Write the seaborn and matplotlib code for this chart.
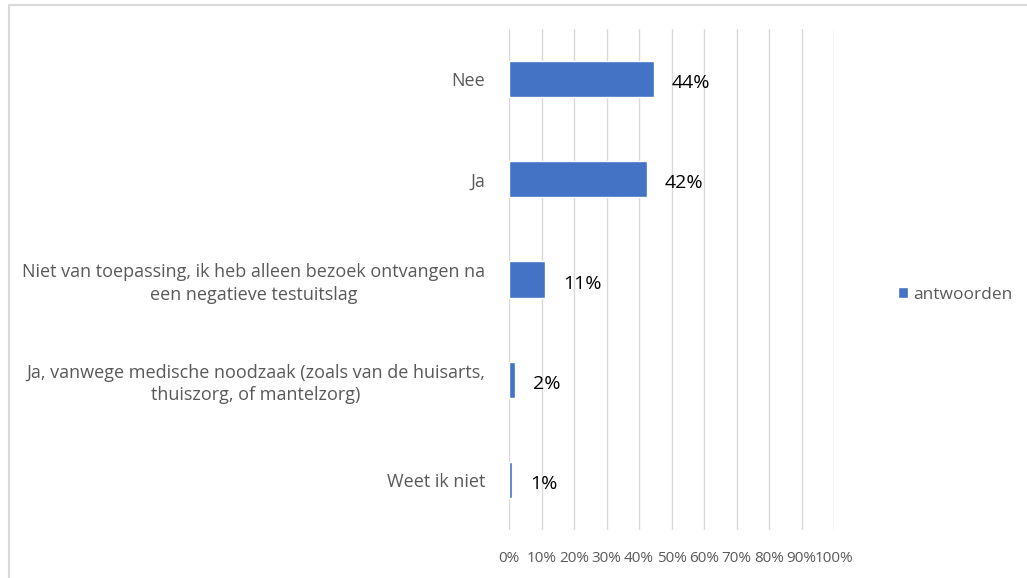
import matplotlib
matplotlib.use("Agg")
import matplotlib.pyplot as plt
import seaborn as sns
import pandas as pd
from matplotlib.patches import Rectangle

# data
categories = [
    "Nee",
    "Ja",
    "Niet van toepassing, ik heb alleen bezoek ontvangen na\neen negatieve testuitslag",
    "Ja, vanwege medische noodzaak (zoals van de huisarts,\nthuiszorg, of mantelzorg)",
    "Weet ik niet",
]
values = [44.6, 42.4, 11.2, 1.8, 1.0]
value_labels = ["44%", "42%", "11%", "2%", "1%"]
xticks = list(range(0, 101, 10))
xtick_labels = [f"{t}%" for t in xticks]

df = pd.DataFrame({"antwoord": categories, "pct": values})

sns.set_style("white")
plt.rcParams["font.family"] = ["Open Sans", "DejaVu Sans"]

fig = plt.figure(figsize=(10.27, 5.78), dpi=100)
ax = fig.add_axes([509 / 1027, 1 - 530 / 578, 325 / 1027, 501 / 578])

sns.barplot(data=df, y="antwoord", x="pct", color="#4472C4", width=0.36,
            saturation=1, label="antwoorden", ax=ax, orient="h")

ax.set_xlim(0, 100)
ax.set_xticks(xticks)
ax.set_xticklabels(xtick_labels, fontsize=11, color="#595959")
ax.tick_params(axis="x", length=3, color="#d9d9d9", pad=12)
ax.tick_params(axis="y", length=0, pad=17)
for lbl in ax.get_yticklabels():
    lbl.set_fontsize(13)
    lbl.set_color("#595959")
    lbl.set_multialignment("center")
    lbl.set_linespacing(1.3)
ax.set_xlabel("")
ax.set_ylabel("")
ax.grid(axis="x", color="#d9d9d9", linewidth=1)
ax.set_axisbelow(True)
for s in ax.spines.values():
    s.set_visible(False)

# value labels right of each bar, slightly below centre as in the reference
for i, (v, t) in enumerate(zip(values, value_labels)):
    ax.annotate(t, (v, i), xytext=(13, -3), textcoords="offset points",
                va="center", ha="left", fontsize=14, color="black")

ax.legend(loc="center left", bbox_to_anchor=(898 / 1027, 1 - 295 / 578),
          bbox_transform=fig.transFigure, frameon=False, fontsize=12.5,
          borderpad=0, borderaxespad=0,
          handlelength=0.6, handleheight=0.6, handletextpad=0.3,
          labelcolor="#595959")

# light outer frame as in the reference
fig.patches.append(Rectangle((9 / 1027, -0.05), 1.1, 1 - 5 / 578 + 0.05,
                             transform=fig.transFigure, fill=False,
                             edgecolor="#d9d9d9", linewidth=1.5))

fig.savefig("out.png", dpi=100)
